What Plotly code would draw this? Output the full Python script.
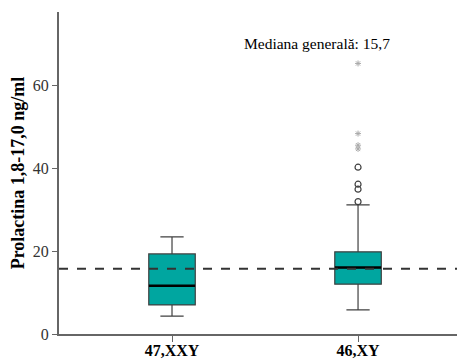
import plotly.graph_objects as go

groups = ["47,XXY", "46,XY"]
q1 = [7.0, 12.0]
median = [11.6, 16.0]
q3 = [19.3, 19.8]
lower_whisker = [4.3, 5.8]
upper_whisker = [23.4, 31.1]

outlier_circles = [31.9, 34.9, 36.1, 40.2]
outlier_stars = [44.6, 45.5, 48.3, 65.2]
overall_median = 15.7

FONT = "Liberation Serif"
fig = go.Figure()

fig.add_trace(go.Box(
    x=groups, q1=q1, median=median, q3=q3,
    lowerfence=lower_whisker, upperfence=upper_whisker,
    boxpoints=False, fillcolor="#00A6A0",
    line=dict(color="#404040", width=1.2),
    width=0.25, whiskerwidth=0.5, showlegend=False, hoverinfo="skip",
))
# thicker black median bars
fig.add_trace(go.Scatter(
    x=groups, y=median, mode="markers",
    marker=dict(symbol="line-ew-open", size=33, color="black", line=dict(width=2.5, color="black")),
    showlegend=False, hoverinfo="skip",
))
fig.add_trace(go.Scatter(
    x=[groups[1]] * len(outlier_circles), y=outlier_circles, mode="markers",
    marker=dict(symbol="circle-open", size=6, color="#404040", line=dict(width=1.2)),
    showlegend=False,
))
fig.add_trace(go.Scatter(
    x=[groups[1]] * len(outlier_stars), y=outlier_stars, mode="markers",
    marker=dict(symbol="asterisk-open", size=5, color="#AAAAAA", line=dict(width=1, color="#AAAAAA")),
    showlegend=False,
))

fig.add_shape(type="line", xref="paper", x0=0, x1=1, yref="y", y0=overall_median, y1=overall_median,
              line=dict(color="#333333", width=2, dash="dash"), layer="above")

fig.add_annotation(x=0.635, xref="paper", y=70.1, yref="y", text="Mediana generală: 15,7",
                   showarrow=False, font=dict(family=FONT, size=15.5, color="black"))

fig.update_layout(
    width=457, height=352,
    margin=dict(l=51, r=0, t=4, b=26),
    paper_bgcolor="white", plot_bgcolor="white",
    font=dict(family=FONT, color="black"),
)
fig.update_xaxes(
    type="category", range=[-0.6075, 1.575], automargin=False,
    showline=True, linecolor="#666666", linewidth=2,
    ticks="outside", ticklen=6, tickcolor="#666666",
    ticklabelstandoff=-5,
    tickfont=dict(family=FONT, size=16, color="black", weight="bold"),
    showgrid=False, zeroline=False,
)
fig.update_yaxes(
    range=[0, 77.6], tickvals=[0, 20, 40, 60], automargin=False,
    showline=True, linecolor="#666666", linewidth=2,
    ticks="outside", ticklen=5, tickcolor="#666666",
    tickfont=dict(family=FONT, size=16, color="#333333"),
    showgrid=False, zeroline=False,
    title=dict(text="Prolactina 1,8-17,0 ng/ml", font=dict(family=FONT, size=18, color="black", weight="bold"), standoff=6),
)

fig.write_html("out.html")
